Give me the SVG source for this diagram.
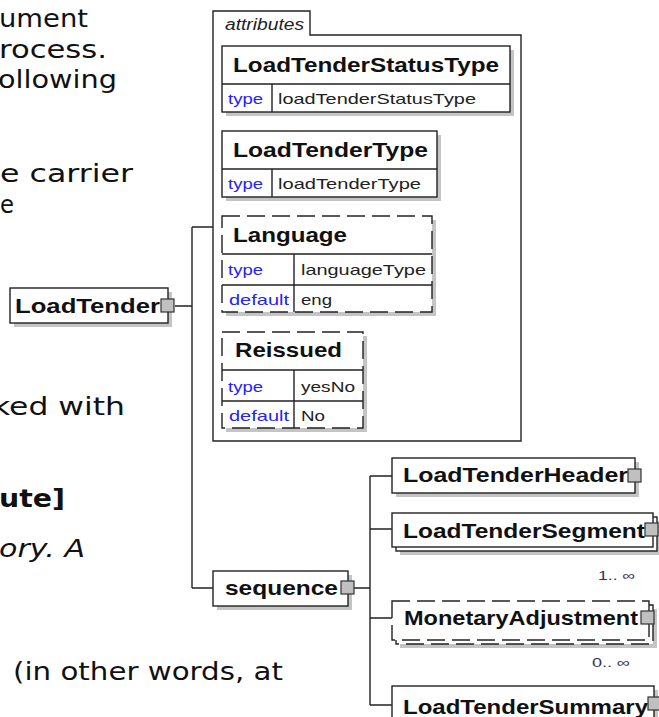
<svg xmlns="http://www.w3.org/2000/svg" width="659" height="717" viewBox="0 0 659 717">
<style>
  .body { font-family: "DejaVu Sans", Verdana, sans-serif; font-size: 25px; fill: #111; }
  .bold { font-weight: bold; }
  .ital { font-style: italic; }
  .box { fill: #fff; stroke: #222; stroke-width: 1.4; }
  .dash { fill: #fff; stroke: #222; stroke-width: 1.4; stroke-dasharray: 18 7; }
  .shadow { fill: #c4c4c4; stroke: none; }
  .div { stroke: #222; stroke-width: 1.4; fill: none; }
  .lbl { font-family: "Liberation Sans", Arial, sans-serif; font-size: 21px; font-weight: bold; fill: #111; }
  .key { font-family: "Liberation Sans", Arial, sans-serif; font-size: 15px; fill: #2222ff; }
  .val { font-family: "Liberation Sans", Arial, sans-serif; font-size: 15px; fill: #222; }
  .att { font-family: "Liberation Sans", Arial, sans-serif; font-size: 16px; font-style: italic; fill: #222; }
  .mult { font-family: "Liberation Sans", Arial, sans-serif; font-size: 13px; fill: #333355; }
  .exp { fill: #c0c0c0; stroke: #333; stroke-width: 1.2; }
  .conn { stroke: #222; stroke-width: 1.4; fill: none; }
</style>

<!-- left page text -->
<g id="page-text">
  <text class="body" x="-1" y="27" textLength="89" lengthAdjust="spacingAndGlyphs">ument</text>
  <text class="body" x="-1" y="58" textLength="108" lengthAdjust="spacingAndGlyphs">rocess.</text>
  <text class="body" x="-2" y="88" textLength="119" lengthAdjust="spacingAndGlyphs">ollowing</text>
  <text class="body" x="0" y="182" textLength="133" lengthAdjust="spacingAndGlyphs">e carrier</text>
  <text class="body" x="0" y="213" textLength="14" lengthAdjust="spacingAndGlyphs">e</text>
  <text class="body" x="-8" y="415" textLength="133" lengthAdjust="spacingAndGlyphs">ked with</text>
  <text class="body bold" x="-1" y="507" textLength="66" lengthAdjust="spacingAndGlyphs">ute]</text>
  <text class="body ital" x="-1" y="557" textLength="86" lengthAdjust="spacingAndGlyphs">ory. A</text>
  <text class="body" x="13" y="680" textLength="270" lengthAdjust="spacingAndGlyphs">(in other words, at</text>
</g>

<!-- connectors -->
<g id="connectors">
  <path class="conn" d="M175,306 H192 M192,227 V588 M192,227 H213 M192,588 H213"/>
  <path class="conn" d="M354,588 H370 M370,476 V705 M370,476 H392 M370,529 H392 M370,618 H392 M370,705 H392"/>
</g>

<!-- attributes container -->
<g id="attributes">
  <path class="div" d="M213,441 V11 H310 V35 H521 V441 Z" fill="#fff"/>
  <text class="att" x="225" y="30" textLength="79" lengthAdjust="spacingAndGlyphs">attributes</text>
</g>

<g id="LoadTenderStatusType">
  <rect class="shadow" x="226" y="50" width="288" height="66"/>
  <rect class="box" x="222" y="46" width="288" height="66"/>
  <path class="div" d="M222,84 H510 M272,84 V112"/>
  <text class="lbl" x="233" y="72" textLength="266" lengthAdjust="spacingAndGlyphs">LoadTenderStatusType</text>
  <text class="key" x="228" y="104" textLength="35" lengthAdjust="spacingAndGlyphs">type</text>
  <text class="val" x="278" y="104" textLength="198" lengthAdjust="spacingAndGlyphs">loadTenderStatusType</text>
</g>

<g id="LoadTenderType">
  <rect class="shadow" x="226" y="135" width="215" height="66"/>
  <rect class="box" x="222" y="131" width="215" height="66"/>
  <path class="div" d="M222,169 H437 M272,169 V197"/>
  <text class="lbl" x="233" y="157" textLength="195" lengthAdjust="spacingAndGlyphs">LoadTenderType</text>
  <text class="key" x="228" y="189" textLength="35" lengthAdjust="spacingAndGlyphs">type</text>
  <text class="val" x="278" y="189" textLength="143" lengthAdjust="spacingAndGlyphs">loadTenderType</text>
</g>

<g id="Language">
  <rect class="shadow" x="226" y="220" width="210" height="96"/>
  <rect class="dash" x="222" y="216" width="210" height="96"/>
  <path class="div" d="M222,254 H432 M222,285 H432 M294,254 V312"/>
  <text class="lbl" x="233" y="242" textLength="114" lengthAdjust="spacingAndGlyphs">Language</text>
  <text class="key" x="228" y="275" textLength="35" lengthAdjust="spacingAndGlyphs">type</text>
  <text class="val" x="301" y="275" textLength="125" lengthAdjust="spacingAndGlyphs">languageType</text>
  <text class="key" x="229" y="305" textLength="60" lengthAdjust="spacingAndGlyphs">default</text>
  <text class="val" x="301" y="305" textLength="31" lengthAdjust="spacingAndGlyphs">eng</text>
</g>

<g id="Reissued">
  <rect class="shadow" x="226" y="336" width="141" height="96"/>
  <rect class="dash" x="222" y="332" width="141" height="96"/>
  <path class="div" d="M222,370 H363 M222,401 H363 M294,370 V428"/>
  <text class="lbl" x="235" y="357" textLength="107" lengthAdjust="spacingAndGlyphs">Reissued</text>
  <text class="key" x="228" y="392" textLength="35" lengthAdjust="spacingAndGlyphs">type</text>
  <text class="val" x="301" y="392" textLength="54" lengthAdjust="spacingAndGlyphs">yesNo</text>
  <text class="key" x="229" y="421" textLength="60" lengthAdjust="spacingAndGlyphs">default</text>
  <text class="val" x="301" y="421" textLength="24" lengthAdjust="spacingAndGlyphs">No</text>
</g>

<g id="LoadTender">
  <rect class="shadow" x="14" y="292" width="158" height="35"/>
  <rect class="box" x="10" y="288" width="158" height="35"/>
  <text class="lbl" x="15" y="313" textLength="145" lengthAdjust="spacingAndGlyphs">LoadTender</text>
  <rect class="exp" x="161" y="299" width="13" height="13"/>
</g>

<g id="sequence">
  <rect class="shadow" x="217" y="575" width="135" height="35"/>
  <rect class="box" x="213" y="571" width="135" height="35"/>
  <text class="lbl" x="225" y="595" textLength="113" lengthAdjust="spacingAndGlyphs">sequence</text>
  <rect class="exp" x="341" y="581" width="13" height="13"/>
</g>

<g id="LoadTenderHeader">
  <rect class="shadow" x="396" y="462" width="243" height="35"/>
  <rect class="box" x="392" y="458" width="243" height="35"/>
  <text class="lbl" x="403" y="482" textLength="225" lengthAdjust="spacingAndGlyphs">LoadTenderHeader</text>
  <rect class="exp" x="628" y="469" width="13" height="13"/>
</g>

<g id="LoadTenderSegment">
  <rect class="shadow" x="400" y="521" width="261" height="34"/>
  <rect class="box" x="396" y="517" width="261" height="34"/>
  <rect class="box" x="392" y="513" width="261" height="34"/>
  <text class="lbl" x="403" y="538" textLength="242" lengthAdjust="spacingAndGlyphs">LoadTenderSegment</text>
  <rect class="exp" x="645" y="523" width="13" height="13"/>
  <text class="mult" x="598" y="580" textLength="37" lengthAdjust="spacingAndGlyphs">1.. ∞</text>
</g>

<g id="MonetaryAdjustment">
  <rect class="shadow" x="400" y="609" width="257" height="39"/>
  <rect class="dash" x="396" y="605" width="257" height="39"/>
  <rect class="dash" x="392" y="601" width="257" height="39"/>
  <text class="lbl" x="404" y="625" textLength="234" lengthAdjust="spacingAndGlyphs">MonetaryAdjustment</text>
  <rect class="exp" x="641" y="611" width="13" height="13"/>
  <text class="mult" x="592" y="667" textLength="38" lengthAdjust="spacingAndGlyphs">0.. ∞</text>
</g>

<g id="LoadTenderSummary">
  <rect class="shadow" x="396" y="690" width="262" height="35"/>
  <rect class="box" x="392" y="686" width="262" height="35"/>
  <text class="lbl" x="403" y="714" textLength="245" lengthAdjust="spacingAndGlyphs">LoadTenderSummary</text>
  <rect class="exp" x="648" y="697" width="13" height="13"/>
</g>
</svg>
